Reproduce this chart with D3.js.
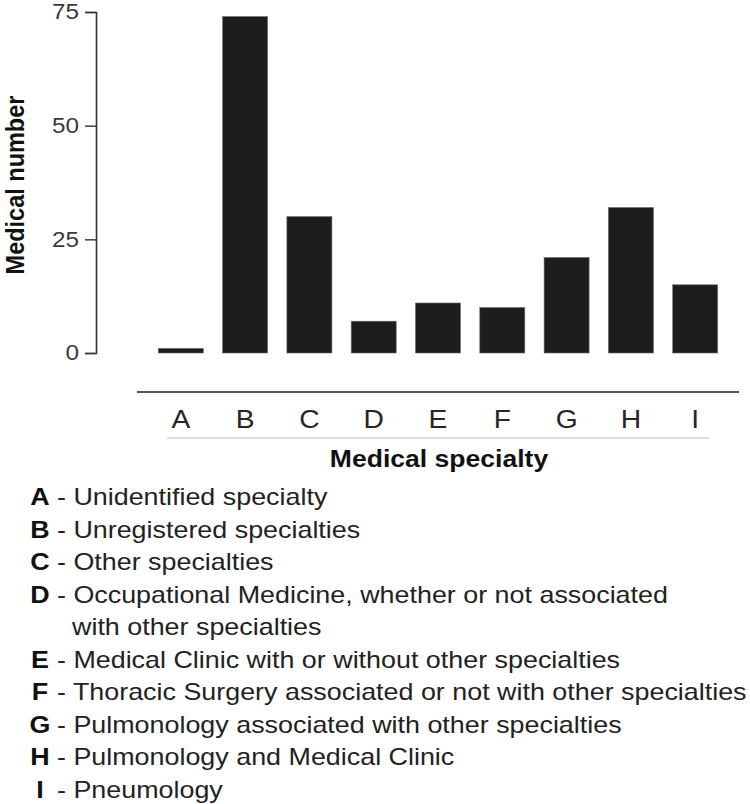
<!DOCTYPE html>
<html>
<head>
<meta charset="utf-8">
<script src="https://cdn.jsdelivr.net/npm/d3@7"></script>
<style>
  body { margin: 0; background: #fff; }
  svg { display: block; font-family: "Liberation Sans", Arial, sans-serif; }
</style>
</head>
<body>
<svg id="chart" width="750" height="804"></svg>
<script>
// data
const categories = ['A', 'B', 'C', 'D', 'E', 'F', 'G', 'H', 'I'];
const counts = [1, 74, 30, 7, 11, 10, 21, 32, 15];
const yTicks = [0, 25, 50, 75];
const legendLines = [
  { key: 'A', text: 'Unidentified specialty' },
  { key: 'B', text: 'Unregistered specialties' },
  { key: 'C', text: 'Other specialties' },
  { key: 'D', text: 'Occupational Medicine, whether or not associated' },
  { key: '', text: 'with other specialties' },
  { key: 'E', text: 'Medical Clinic with or without other specialties' },
  { key: 'F', text: 'Thoracic Surgery associated or not with other specialties' },
  { key: 'G', text: 'Pulmonology associated with other specialties' },
  { key: 'H', text: 'Pulmonology and Medical Clinic' },
  { key: 'I', text: 'Pneumology' }
];

const sx = 1.13; // the source picture is a bit stretched sideways
const svg = d3.select('#chart');

const x = d3.scaleBand().domain(categories).range([139, 737]).padding(0.3);
const y = d3.scaleLinear().domain([0, 75]).range([353, 12]);

// bars
svg.append('g')
  .selectAll('rect')
  .data(categories)
  .join('rect')
  .attr('x', d => x(d))
  .attr('width', x.bandwidth())
  .attr('y', (d, i) => y(counts[i]))
  .attr('height', (d, i) => y(0) - y(counts[i]))
  .attr('fill', '#1d1d1d')
  .attr('stroke', '#6a6a6a')
  .attr('stroke-width', 0.6);

// y axis
const yAxis = svg.append('g')
  .attr('transform', 'translate(96,0)')
  .call(d3.axisLeft(y).tickValues(yTicks).tickSize(11).tickPadding(6));
yAxis.select('.domain').attr('stroke', '#333').attr('stroke-width', 1.6);
yAxis.selectAll('.tick line').attr('stroke', '#333').attr('stroke-width', 1.4);
yAxis.selectAll('.tick text')
  .attr('x', -15)
  .attr('transform', `scale(${sx},1)`)
  .attr('fill', '#3a3a3a')
  .style('font-size', '21.5px')
  .style('font-family', '"Liberation Sans", Arial, sans-serif');

svg.append('text')
  .attr('transform', `translate(24,185) scale(${sx},1) rotate(-90)`)
  .attr('text-anchor', 'middle')
  .attr('font-weight', 'bold')
  .attr('font-size', 23.5)
  .attr('fill', '#111')
  .text('Medical number');

// x axis: long rule, letters, light rule underneath
svg.append('line')
  .attr('x1', 137).attr('x2', 739)
  .attr('y1', 392).attr('y2', 392)
  .attr('stroke', '#555').attr('stroke-width', 2);

svg.append('g')
  .selectAll('text')
  .data(categories)
  .join('text')
  .attr('transform', d => `translate(${x(d) + x.bandwidth() / 2},428) scale(${sx},1)`)
  .attr('text-anchor', 'middle')
  .attr('font-size', 25)
  .attr('fill', '#262626')
  .text(d => d);

svg.append('line')
  .attr('x1', 167).attr('x2', 709)
  .attr('y1', 438).attr('y2', 438)
  .attr('stroke', '#d2d2d2').attr('stroke-width', 1.5);

svg.append('text')
  .attr('transform', `translate(439,467) scale(${sx},1)`)
  .attr('text-anchor', 'middle')
  .attr('font-weight', 'bold')
  .attr('font-size', 23.5)
  .attr('fill', '#111')
  .text('Medical specialty');

// legend below the chart
const legend = svg.append('g')
  .selectAll('g')
  .data(legendLines)
  .join('g')
  .attr('transform', (d, i) => `translate(0,${505 + i * 32.5}) scale(${sx},1)`)
  .attr('font-size', 23.8)
  .attr('fill', '#222');

legend.append('text')
  .attr('x', 40 / sx)
  .attr('text-anchor', 'middle')
  .attr('font-weight', 'bold')
  .attr('fill', '#111')
  .text(d => d.key);

legend.append('text')
  .attr('x', d => d.key ? 49.5 / sx : 72 / sx)
  .attr('xml:space', 'preserve')
  .text(d => d.key ? ' - ' + d.text : d.text);
</script>
</body>
</html>
